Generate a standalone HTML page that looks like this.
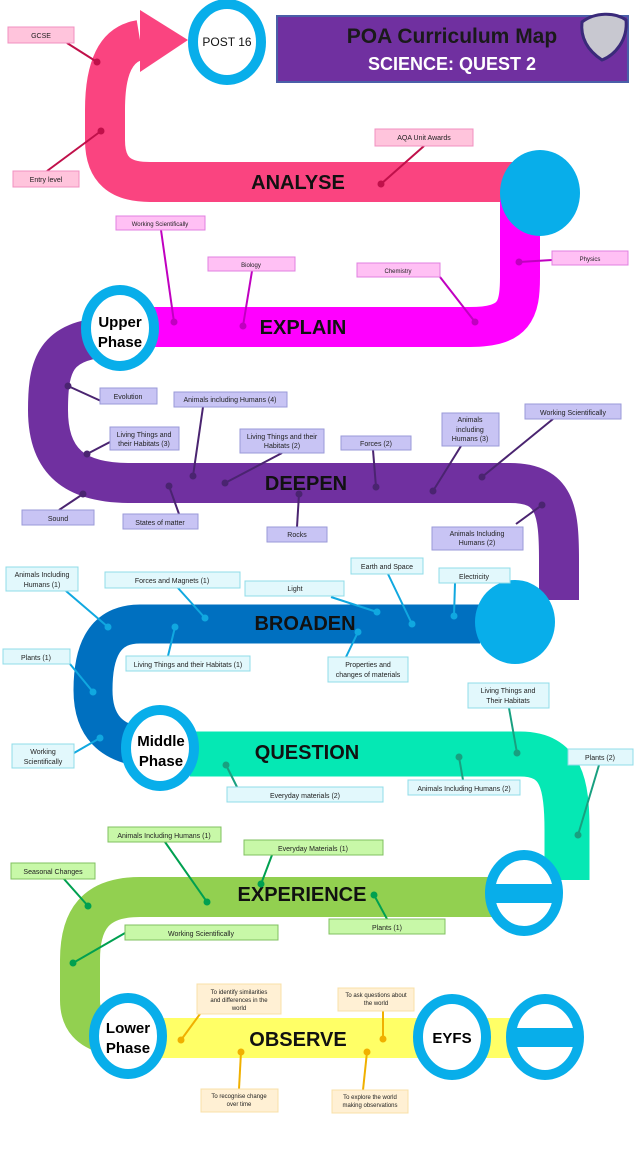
<!DOCTYPE html>
<html><head><meta charset="utf-8"><style>
html,body{margin:0;padding:0;background:#fff}
svg{display:block}
text{font-family:"Liberation Sans",sans-serif}
.b{font-weight:bold;font-size:20px;fill:#111}
.l{font-size:7px;fill:#222}
</style></head><body>
<svg width="638" height="1158" viewBox="0 0 638 1158" xmlns="http://www.w3.org/2000/svg">
<!-- bands -->
<path d="M140 40 C110 45 105 80 105 110 V140 C105 170 120 182 150 182 H530" fill="none" stroke="#fa4480" stroke-width="40"/>
<polygon points="140,10 188,40 140,72" fill="#fa4480"/>
<path d="M130 327 H470 C515 327 520 310 520 277 V200" fill="none" stroke="#ff00ff" stroke-width="40"/>
<path d="M110 337 C55 340 48 365 48 410 C48 462 75 483 130 483 H510 C555 483 559 510 559 560 V600" fill="none" stroke="#7030a0" stroke-width="40"/>
<path d="M480 624 H140 C105 624 93 650 93 690 C93 725 110 745 150 748" fill="none" stroke="#0070c0" stroke-width="39"/>
<path d="M190 754 H520 C562 754 567 785 567 830 V880" fill="none" stroke="#05e8b4" stroke-width="45"/>
<path d="M500 897 H140 C95 897 80 920 80 960 V1000 C80 1020 90 1030 110 1035" fill="none" stroke="#92d050" stroke-width="40"/>
<rect x="140" y="1018" width="380" height="40" fill="#ffff66"/>
<!-- circles -->
<g fill="#08aeea">
<ellipse cx="540" cy="193" rx="40" ry="43"/>
<ellipse cx="515" cy="622" rx="40" ry="42"/>
</g>
<g fill="#fff" stroke="#08aeea" stroke-width="10">
<ellipse cx="227" cy="42" rx="34" ry="38"/>
<ellipse cx="120" cy="328" rx="34" ry="38"/>
<ellipse cx="160" cy="748" rx="34" ry="38"/>
<ellipse cx="128" cy="1036" rx="34" ry="38"/>
<ellipse cx="452" cy="1037" rx="34" ry="38"/>
<ellipse cx="524" cy="893" rx="34" ry="38"/>
<ellipse cx="545" cy="1037" rx="34" ry="38"/>
</g>
<rect x="490" y="884" width="68" height="19" fill="#08aeea"/>
<rect x="511" y="1028" width="68" height="19" fill="#08aeea"/>
<text x="227" y="46" font-size="12" text-anchor="middle" fill="#111">POST 16</text>
<text x="120" y="327" font-size="15" font-weight="bold" text-anchor="middle">Upper</text>
<text x="120" y="347" font-size="15" font-weight="bold" text-anchor="middle">Phase</text>
<text x="161" y="746" font-size="15" font-weight="bold" text-anchor="middle">Middle</text>
<text x="161" y="766" font-size="15" font-weight="bold" text-anchor="middle">Phase</text>
<text x="128" y="1033" font-size="15" font-weight="bold" text-anchor="middle">Lower</text>
<text x="128" y="1053" font-size="15" font-weight="bold" text-anchor="middle">Phase</text>
<text x="452" y="1043" font-size="15" font-weight="bold" text-anchor="middle">EYFS</text>
<!-- band titles -->
<text class="b" x="298" y="189" text-anchor="middle">ANALYSE</text>
<text class="b" x="303" y="334" text-anchor="middle">EXPLAIN</text>
<text class="b" x="306" y="490" text-anchor="middle">DEEPEN</text>
<text class="b" x="305" y="630" text-anchor="middle">BROADEN</text>
<text class="b" x="307" y="759" text-anchor="middle">QUESTION</text>
<text class="b" x="302" y="901" text-anchor="middle">EXPERIENCE</text>
<text class="b" x="298" y="1046" text-anchor="middle">OBSERVE</text>
<!-- title -->
<rect x="277" y="16" width="351" height="66" fill="#7030a0" stroke="#4a5fa8" stroke-width="2"/>
<text x="452" y="43" font-size="21" font-weight="bold" text-anchor="middle" fill="#1a1a1a">POA Curriculum Map</text>
<text x="452" y="70" font-size="18" font-weight="bold" text-anchor="middle" fill="#fff">SCIENCE: QUEST 2</text>
<path d="M582 22 C595 12 615 12 626 20 C628 40 615 55 602 60 C590 52 580 40 582 22Z" fill="#c8c8d0" stroke="#3a2a7a" stroke-width="3"/>
<!-- connector lines -->
<g stroke-width="2" fill="none">
<g stroke="#c0104a"><path d="M67 43 L97 62"/><path d="M47 171 L101 131"/><path d="M424 146 L381 184"/></g>
<g stroke="#c000c0"><path d="M161 230 L174 322"/><path d="M252 271 L243 326"/><path d="M440 277 L475 322"/><path d="M552 260 L519 262"/></g>
<g stroke="#4a2470"><path d="M68 386 L101 401"/><path d="M203 407 L193 476"/><path d="M110 442 L87 454"/><path d="M282 453 L225 483"/><path d="M373 450 L376 487"/><path d="M461 446 L433 491"/><path d="M553 419 L482 477"/><path d="M59 510 L83 494"/><path d="M179 514 L169 486"/><path d="M297 527 L299 494"/><path d="M516 524 L542 505"/></g>
<g stroke="#10a8e0"><path d="M66 591 L108 627"/><path d="M178 588 L205 618"/><path d="M331 597 L377 612"/><path d="M388 574 L412 624"/><path d="M455 583 L454 616"/><path d="M70 664 L93 692"/><path d="M168 656 L175 627"/><path d="M346 657 L358 632"/><path d="M74 753 L100 738"/></g>
<g stroke="#18a080"><path d="M509 708 L517 753"/><path d="M237 787 L226 765"/><path d="M463 780 L459 757"/><path d="M599 765 L578 835"/></g>
<g stroke="#00a050"><path d="M165 842 L207 902"/><path d="M272 855 L261 884"/><path d="M64 879 L88 906"/><path d="M125 933 L73 963"/><path d="M387 919 L374 895"/></g>
<g stroke="#f0b000"><path d="M200 1014 L181 1040"/><path d="M383 1011 L383 1039"/><path d="M239 1089 L241 1052"/><path d="M363 1090 L367 1052"/></g>
</g>
<g>
<g fill="#c0104a"><circle cx="97" cy="62" r="3.5"/><circle cx="101" cy="131" r="3.5"/><circle cx="381" cy="184" r="3.5"/></g>
<g fill="#c000c0"><circle cx="174" cy="322" r="3.5"/><circle cx="243" cy="326" r="3.5"/><circle cx="475" cy="322" r="3.5"/><circle cx="519" cy="262" r="3.5"/></g>
<g fill="#4a2470"><circle cx="68" cy="386" r="3.5"/><circle cx="193" cy="476" r="3.5"/><circle cx="87" cy="454" r="3.5"/><circle cx="225" cy="483" r="3.5"/><circle cx="376" cy="487" r="3.5"/><circle cx="433" cy="491" r="3.5"/><circle cx="482" cy="477" r="3.5"/><circle cx="83" cy="494" r="3.5"/><circle cx="169" cy="486" r="3.5"/><circle cx="299" cy="494" r="3.5"/><circle cx="542" cy="505" r="3.5"/></g>
<g fill="#10a8e0"><circle cx="108" cy="627" r="3.5"/><circle cx="205" cy="618" r="3.5"/><circle cx="377" cy="612" r="3.5"/><circle cx="412" cy="624" r="3.5"/><circle cx="454" cy="616" r="3.5"/><circle cx="93" cy="692" r="3.5"/><circle cx="175" cy="627" r="3.5"/><circle cx="358" cy="632" r="3.5"/><circle cx="100" cy="738" r="3.5"/></g>
<g fill="#18a080"><circle cx="517" cy="753" r="3.5"/><circle cx="226" cy="765" r="3.5"/><circle cx="459" cy="757" r="3.5"/><circle cx="578" cy="835" r="3.5"/></g>
<g fill="#00a050"><circle cx="207" cy="902" r="3.5"/><circle cx="261" cy="884" r="3.5"/><circle cx="88" cy="906" r="3.5"/><circle cx="73" cy="963" r="3.5"/><circle cx="374" cy="895" r="3.5"/></g>
<g fill="#f0b000"><circle cx="181" cy="1040" r="3.5"/><circle cx="383" cy="1039" r="3.5"/><circle cx="241" cy="1052" r="3.5"/><circle cx="367" cy="1052" r="3.5"/></g>
</g>
<!-- label boxes -->
<g fill="#ffc4dc" stroke="#f090c0" stroke-width="1">
<rect x="8" y="27" width="66" height="16"/><rect x="13" y="171" width="66" height="16"/><rect x="375" y="129" width="98" height="17"/>
</g>
<g fill="#ffc0f4" stroke="#e080e0" stroke-width="1">
<rect x="116" y="216" width="89" height="14"/><rect x="208" y="257" width="87" height="14"/><rect x="357" y="263" width="83" height="14"/><rect x="552" y="251" width="76" height="14"/>
</g>
<g fill="#c8c4f4" stroke="#9a9ad8" stroke-width="1">
<rect x="100" y="388" width="57" height="16"/><rect x="174" y="392" width="113" height="15"/><rect x="110" y="427" width="69" height="23"/><rect x="240" y="429" width="84" height="24"/><rect x="341" y="436" width="70" height="14"/><rect x="442" y="413" width="57" height="33"/><rect x="525" y="404" width="96" height="15"/><rect x="22" y="510" width="72" height="15"/><rect x="123" y="514" width="75" height="15"/><rect x="267" y="527" width="60" height="15"/><rect x="432" y="527" width="91" height="23"/>
</g>
<g fill="#e2f8fc" stroke="#90dce8" stroke-width="1">
<rect x="6" y="567" width="72" height="24"/><rect x="105" y="572" width="135" height="16"/><rect x="245" y="581" width="99" height="15"/><rect x="351" y="558" width="72" height="16"/><rect x="439" y="568" width="71" height="15"/><rect x="3" y="649" width="67" height="15"/><rect x="126" y="656" width="124" height="15"/><rect x="328" y="657" width="80" height="25"/><rect x="468" y="683" width="81" height="25"/><rect x="12" y="744" width="62" height="24"/><rect x="227" y="787" width="156" height="15"/><rect x="408" y="780" width="112" height="15"/><rect x="568" y="749" width="65" height="16"/>
</g>
<g fill="#c8f8a8" stroke="#80c060" stroke-width="1">
<rect x="108" y="827" width="113" height="15"/><rect x="244" y="840" width="139" height="15"/><rect x="11" y="863" width="84" height="16"/><rect x="125" y="925" width="153" height="15"/><rect x="329" y="919" width="116" height="15"/>
</g>
<g fill="#fff0d4" stroke="#f8e0a8" stroke-width="1">
<rect x="197" y="984" width="84" height="30"/><rect x="338" y="988" width="76" height="23"/><rect x="201" y="1089" width="77" height="23"/><rect x="332" y="1090" width="76" height="23"/>
</g>
<g class="l" text-anchor="middle">
<text x="41" y="38">GCSE</text><text x="46" y="182">Entry level</text><text x="424" y="140">AQA Unit Awards</text>
<text x="160" y="226" font-size="6">Working Scientifically</text><text x="251" y="267" font-size="6">Biology</text><text x="398" y="273" font-size="6">Chemistry</text><text x="590" y="261" font-size="6">Physics</text>
<text x="128" y="399">Evolution</text><text x="230" y="402">Animals including Humans (4)</text><text x="144" y="437">Living Things and</text><text x="144" y="446">their Habitats (3)</text><text x="282" y="439">Living Things and their</text><text x="282" y="448">Habitats (2)</text><text x="376" y="446">Forces (2)</text><text x="470" y="422">Animals</text><text x="470" y="432">including</text><text x="470" y="441">Humans (3)</text><text x="573" y="415">Working Scientifically</text><text x="58" y="521">Sound</text><text x="160" y="525">States of matter</text><text x="297" y="537">Rocks</text><text x="477" y="536">Animals Including</text><text x="477" y="545">Humans (2)</text>
<text x="42" y="577">Animals Including</text><text x="42" y="587">Humans (1)</text><text x="172" y="583">Forces and Magnets (1)</text><text x="295" y="591">Light</text><text x="387" y="569">Earth and Space</text><text x="474" y="579">Electricity</text><text x="36" y="660">Plants (1)</text><text x="188" y="667">Living Things and their Habitats (1)</text><text x="368" y="667">Properties and</text><text x="368" y="677">changes of materials</text><text x="508" y="693">Living Things and</text><text x="508" y="703">Their Habitats</text><text x="43" y="754">Working</text><text x="43" y="764">Scientifically</text><text x="305" y="798">Everyday materials (2)</text><text x="464" y="791">Animals Including Humans (2)</text><text x="600" y="760">Plants (2)</text>
<text x="164" y="838">Animals Including Humans (1)</text><text x="313" y="851">Everyday Materials (1)</text><text x="53" y="874">Seasonal Changes</text><text x="201" y="936">Working Scientifically</text><text x="387" y="930">Plants (1)</text>
<g font-size="6"><text x="239" y="994">To identify similarities</text><text x="239" y="1002">and differences in the</text><text x="239" y="1010">world</text><text x="376" y="997">To ask questions about</text><text x="376" y="1005">the world</text><text x="239" y="1098">To recognise change</text><text x="239" y="1106">over time</text><text x="370" y="1099">To explore the world</text><text x="370" y="1107">making observations</text></g>
</g>
</svg>
</body></html>
